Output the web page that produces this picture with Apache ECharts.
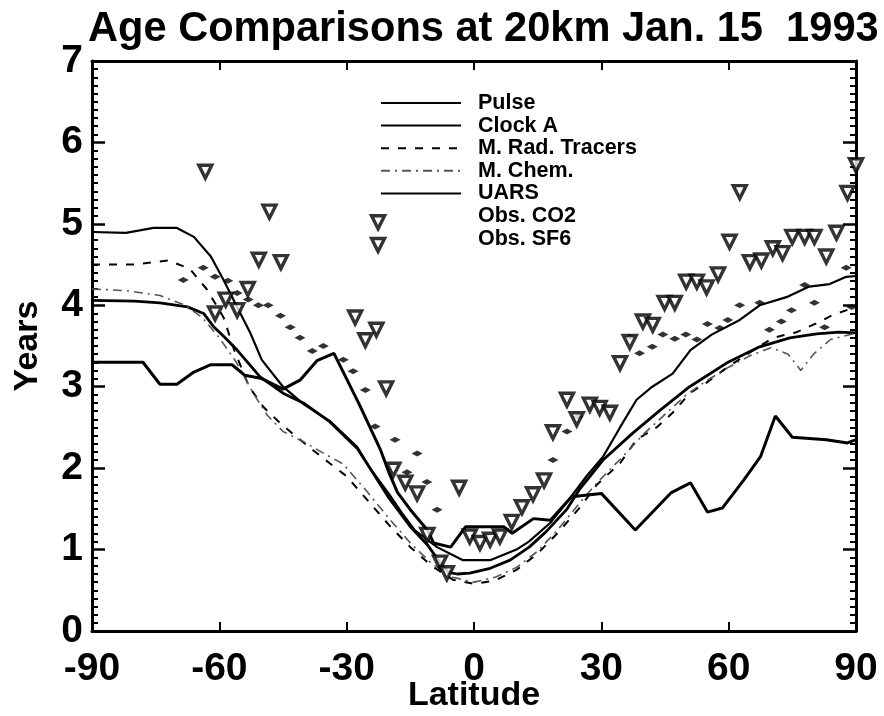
<!DOCTYPE html>
<html><head><meta charset="utf-8">
<script src="https://cdn.jsdelivr.net/npm/echarts@6/dist/echarts.min.js"></script>
<style>html,body{margin:0;padding:0;background:#fff}#c{width:884px;height:716px}</style>
</head><body><div id="c"></div>
<script>
const titleText = 'Age Comparisons at 20km Jan. 15  1993';
const xTicks = [-90, -60, -30, 0, 30, 60, 90];
const yTicks = [0, 1, 2, 3, 4, 5, 6, 7];
const seriesNames = ['Pulse', 'Clock A', 'M. Rad. Tracers', 'M. Chem.', 'UARS', 'Obs. CO2', 'Obs. SF6'];

const pulse = [[-90,4.9],[-82,4.89],[-75.5,4.95],[-70,4.95],[-66,4.84],[-62,4.6],[-59,4.31],[-55.8,3.98],[-52.7,3.66],[-50,3.33],[-45,3.0],[-40,2.78],[-34,2.58],[-27.5,2.26],[-24.5,2.0],[-20,1.68],[-17,1.45],[-14,1.24],[-8.7,1.03],[-2.6,0.87],[3.8,0.87],[10,1.0],[13,1.1],[18,1.33],[22.6,1.63],[26.5,1.9],[30.4,2.14],[34.4,2.5],[38.3,2.84],[42,3.0],[46.8,3.16],[51,3.45],[56,3.64],[62.6,3.82],[67.3,4.0],[73.6,4.1],[79,4.23],[83.8,4.26],[87.7,4.35],[90,4.36]];

const clockA = [[-90,4.06],[-80,4.05],[-74,4.03],[-67.5,3.98],[-63.7,3.9],[-61.4,3.74],[-59,3.62],[-55.8,3.45],[-50.4,3.12],[-45,2.92],[-40.2,2.8],[-34,2.57],[-27.5,2.24],[-24.5,2.0],[-20,1.63],[-15,1.28],[-11,1.06],[-8,0.84],[-6,0.72],[-4,0.7],[-1,0.71],[3.8,0.77],[8.5,0.87],[13,1.03],[17,1.22],[21.8,1.49],[25,1.75],[30.4,2.1],[37.4,2.43],[43.8,2.71],[50.8,3.0],[59.5,3.29],[67.3,3.49],[74.4,3.6],[80.7,3.65],[86,3.67],[90,3.66]];

const mRad = [[-90,4.5],[-80,4.5],[-72,4.55],[-67,4.45],[-63,4.2],[-59,3.85],[-56.5,3.45],[-53,3.0],[-49.6,2.75],[-45.6,2.55],[-41.7,2.38],[-37.9,2.22],[-34,2.06],[-30,1.9],[-25,1.6],[-20,1.3],[-15,1.03],[-10,0.8],[-5,0.63],[0,0.58],[5,0.62],[10,0.75],[15,0.95],[20,1.22],[25,1.52],[29,1.8],[34.4,2.06],[38.3,2.35],[43,2.5],[46.8,2.68],[50.8,2.92],[54.8,3.05],[60,3.25],[65,3.42],[70.4,3.6],[76,3.67],[80.7,3.78],[84.5,3.88],[90,3.98]];

const mChem = [[-90,4.2],[-82,4.18],[-74,4.12],[-68,4.0],[-64,3.85],[-60,3.6],[-56,3.3],[-52,2.92],[-48.7,2.65],[-45,2.45],[-40,2.32],[-35,2.17],[-30.8,2.05],[-25,1.7],[-20,1.38],[-15,1.08],[-10,0.83],[-5,0.66],[0,0.6],[5,0.66],[10,0.78],[15,0.98],[20,1.26],[25,1.58],[29,1.82],[35,2.14],[40,2.42],[45,2.66],[50,2.9],[55,3.08],[60,3.24],[65,3.38],[70,3.48],[74,3.4],[77,3.2],[80,3.4],[84,3.58],[90,3.66]];

const uars = [[-90,3.3],[-86,3.3],[-78,3.3],[-74,3.03],[-70,3.03],[-66,3.18],[-62,3.27],[-57,3.27],[-54,3.14],[-50,3.1],[-45,2.97],[-41,3.08],[-37,3.32],[-33,3.41],[-27,2.78],[-22,2.22],[-20,1.94],[-18,1.7],[-15,1.49],[-11,1.24],[-9.5,1.08],[-5.5,1.03],[-2,1.28],[7,1.28],[9,1.2],[14,1.38],[18,1.36],[23,1.65],[30,1.69],[38,1.24],[46.5,1.7],[51,1.82],[55,1.46],[58.5,1.51],[63.5,1.85],[67.5,2.14],[71,2.64],[75,2.38],[83,2.35],[88,2.31],[90,2.35]];

const obsCO2 = [[-68.5,4.31],[-63.8,4.46],[-61,4.35],[-58,4.3],[-55.8,4.15],[-53.2,4.07],[-50.8,4.0],[-48.5,4.0],[-45.6,3.87],[-43.3,3.73],[-41,3.6],[-38.1,3.44],[-35.5,3.5],[-30.8,3.33],[-28.5,3.19],[-25.6,2.96],[-23.3,2.51],[-18.6,2.35],[-15.8,1.95],[-13.4,2.18],[-11.1,1.83],[-8.7,1.49],[18.6,2.1],[21.9,2.45],[24.5,2.63],[36.7,3.61],[39,3.41],[42,3.49],[44.5,3.64],[47.3,3.59],[49.9,3.64],[52.5,3.58],[55,3.77],[57.9,3.72],[59.8,3.82],[62.6,4.0],[67.3,4.03],[69.6,3.7],[72.4,3.8],[74.8,3.94],[77.9,4.25],[80.2,4.03],[82.6,3.73],[87.7,4.46],[89,3.98]];

const obsSF6 = [[-63.3,5.64],[-61,3.9],[-58.5,4.07],[-55.8,3.94],[-53.3,4.2],[-50.7,4.56],[-48.2,5.15],[-45.5,4.53],[-28,3.85],[-25.6,3.57],[-23,3.7],[-22.6,5.02],[-22.6,4.74],[-20.7,2.98],[-19,1.98],[-16.2,1.82],[-13.4,1.69],[-11,1.18],[-8,0.84],[-6.4,0.71],[-3.5,1.76],[-1,1.16],[1.4,1.08],[3.8,1.12],[6.1,1.16],[8.9,1.34],[11.3,1.52],[13.9,1.68],[16.5,1.85],[18.6,2.44],[21.9,2.84],[24.2,2.6],[27.3,2.78],[29.6,2.74],[32,2.68],[34.4,3.29],[36.7,3.55],[39.8,3.8],[42.1,3.76],[44.9,4.03],[47.3,4.03],[50,4.29],[52.5,4.29],[54.8,4.22],[57.5,4.38],[60.2,4.78],[62.6,5.39],[65,4.53],[67.7,4.55],[70.4,4.7],[72.7,4.64],[75,4.84],[77.9,4.84],[80.2,4.84],[83,4.6],[85.4,4.89],[88,5.38],[90,5.72]];

const FONT = "'Liberation Sans', Arial, Helvetica, sans-serif";
const chart = echarts.init(document.getElementById('c'), null, {renderer: 'canvas'});

function lineSeries(name, data, width, type, color) {
  return {name, type: 'line', data, symbol: 'none', showSymbol: false, xAxisIndex: 0, yAxisIndex: 0,
    lineStyle: {color: color || '#000', width, type}, itemStyle: {color: color || '#000'},
    z: 3, silent: true, animation: false};
}

function axLine() { return {show: true, onZero: false, lineStyle: {color: '#000', width: 3}}; }
function xTick() { return {show: true, inside: true, length: 9, lineStyle: {color: '#000', width: 2}}; }
function yTick() { return {show: true, inside: true, length: 13, lineStyle: {color: '#000', width: 2.5}}; }
function yMinor() { return {show: true, splitNumber: 10, length: 6, lineStyle: {color: '#000', width: 2}}; }

const option = {
  backgroundColor: '#fff',
  animation: false,
  title: {text: titleText, left: 88, top: 9, padding: 0,
    textStyle: {fontFamily: FONT, fontWeight: 'bold', fontSize: 41.6, color: '#000'}},
  grid: {left: 92, right: 28, top: 61, bottom: 85, containLabel: false, outerBoundsMode: 'none'},
  legend: {
    orient: 'vertical', left: 380, top: 92, padding: 0, itemWidth: 80, itemHeight: 14, itemGap: 0.6,
    itemStyle: {opacity: 0},
    textStyle: {fontFamily: FONT, fontWeight: 'bold', fontSize: 21.5, color: '#000', lineHeight: 20, padding: [0,0,0,12]},
    data: seriesNames.slice(0,5).map(n => ({name: n})).concat([
      {name: 'Obs. CO2', icon: 'rect', itemStyle: {opacity: 0}},
      {name: 'Obs. SF6', icon: 'rect', itemStyle: {opacity: 0}}
    ])
  },
  xAxis: [
    {type: 'value', min: xTicks[0], max: xTicks[xTicks.length-1], interval: 30, position: 'bottom',
     name: 'Latitude', nameLocation: 'middle', nameGap: 48, nameMoveOverlap: false,
     nameTextStyle: {fontFamily: FONT, fontWeight: 'bold', fontSize: 34, color: '#000'},
     axisLine: axLine(), axisTick: xTick(),
     axisLabel: {fontFamily: FONT, fontWeight: 'bold', fontSize: 39, color: '#000', margin: 19},
     splitLine: {show: false}},
    {type: 'value', min: xTicks[0], max: xTicks[xTicks.length-1], interval: 30, position: 'top',
     axisLine: axLine(), axisTick: xTick(),
     axisLabel: {show: false}, splitLine: {show: false}}
  ],
  yAxis: [
    {type: 'value', min: yTicks[0], max: yTicks[yTicks.length-1], interval: 1, position: 'left',
     name: 'Years', nameLocation: 'middle', nameGap: 47, nameRotate: 90, nameMoveOverlap: false,
     nameTextStyle: {fontFamily: FONT, fontWeight: 'bold', fontSize: 34, color: '#000'},
     axisLine: axLine(), axisTick: yTick(), minorTick: yMinor(),
     axisLabel: {fontFamily: FONT, fontWeight: 'bold', fontSize: 39, color: '#000', margin: 9},
     splitLine: {show: false}, minorSplitLine: {show: false}},
    {type: 'value', min: yTicks[0], max: yTicks[yTicks.length-1], interval: 1, position: 'right',
     axisLine: axLine(), axisTick: yTick(), minorTick: yMinor(),
     axisLabel: {show: false}, splitLine: {show: false}, minorSplitLine: {show: false}}
  ],
  series: [
    lineSeries('Pulse', pulse, 2.2, 'solid'),
    lineSeries('Clock A', clockA, 2.8, 'solid'),
    lineSeries('M. Rad. Tracers', mRad, 2, [8, 9]),
    lineSeries('M. Chem.', mChem, 1.6, [9, 5, 2, 5], '#555'),
    lineSeries('UARS', uars, 3, 'solid'),
    {name: 'Obs. CO2', type: 'scatter', data: obsCO2, symbol: 'diamond', symbolSize: [11, 6],
     itemStyle: {color: '#000'}, z: 4, silent: true},
    {name: 'Obs. SF6', type: 'scatter', data: obsSF6, symbol: 'triangle', symbolRotate: 180, symbolSize: 13,
     itemStyle: {color: '#fff', borderColor: '#000', borderWidth: 3.4}, z: 5, silent: true}
  ]
};
chart.setOption(option);
</script></body></html>
